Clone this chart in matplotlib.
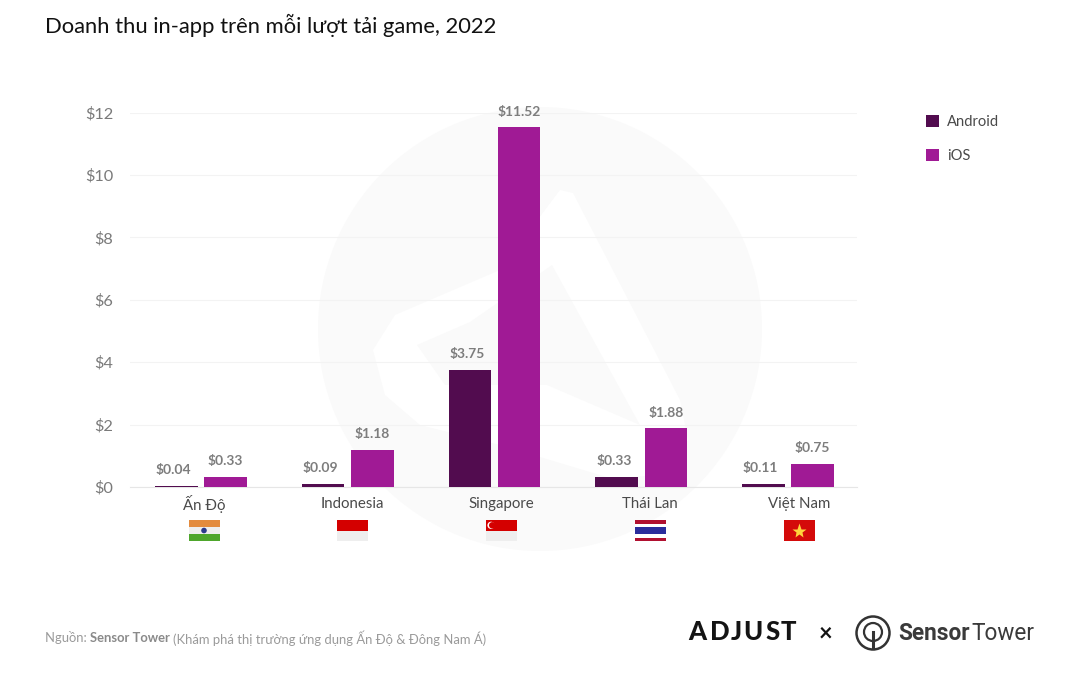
import matplotlib
matplotlib.use('Agg')
import matplotlib.pyplot as plt
from matplotlib.lines import Line2D
from matplotlib.patches import Circle, Polygon, Rectangle
from matplotlib.transforms import Affine2D

plt.rcParams['font.family'] = ['Lato', 'Noto Sans', 'DejaVu Sans']

countries = ['Ấn Độ', 'Indonesia', 'Singapore', 'Thái Lan', 'Việt Nam']
android = [0.04, 0.09, 3.75, 0.33, 0.11]
ios = [0.33, 1.18, 11.52, 1.88, 0.75]
y_ticks = [0, 2, 4, 6, 8, 10, 12]

W, H = 1080, 695
fig = plt.figure(figsize=(W / 100, H / 100), dpi=100)
# 像素坐标 (原点在左上角)
px = Affine2D().scale(1 / W, -1 / H).translate(0, 1) + fig.transFigure


def rect(x, y, w, h, color, zorder=1):
    fig.add_artist(Rectangle((x, y), w, h, transform=px, fc=color, ec='none', zorder=zorder))


def text(x, y, s, **kw):
    kw.setdefault('va', 'center')
    return fig.text(x / W, 1 - y / H, s, **kw)


# 背景水印
wm = '#fafafa'
fig.add_artist(Circle((540, 329), 222, transform=px, fc=wm, ec='none', zorder=0))
fig.add_artist(Polygon([(560, 190), (573, 193), (680, 400), (688, 440), (665, 475), (610, 478),
                        (500, 445), (420, 425), (385, 395), (373, 350), (395, 315), (500, 270)],
                       transform=px, fc='white', ec='none', zorder=0))
fig.add_artist(Polygon([(552, 265), (640, 425), (547, 385), (445, 385), (417, 345), (470, 322)],
                       transform=px, fc=wm, ec='none', zorder=0))

ax = fig.add_axes([130 / W, 1 - 487 / H, (857 - 130) / W, (487 - 112.5) / H])
ax.patch.set_alpha(0)
x = list(range(len(countries)))
offset = 0.168
bar_w = 0.29
b1 = ax.bar([i - offset for i in x], android, bar_w, color='#520c4f', label='Android', zorder=3)
b2 = ax.bar([i + offset for i in x], ios, bar_w, color='#a01a95', label='iOS', zorder=3)

for bars, vals, dx in [(b1, android, -2), (b2, ios, 0)]:
    for b, v in zip(bars, vals):
        ax.annotate('${:.2f}'.format(v), (b.get_x() + b.get_width() / 2, v), xytext=(dx, 7),
                    textcoords='offset points', ha='center', va='bottom',
                    fontsize=10, fontweight='bold', color='#7d7d7d', zorder=4)

ax.set_xlim(-0.484, 4.47)
ax.set_ylim(0, 12)
ax.set_yticks(y_ticks)
ax.set_yticklabels(['${}'.format(t) for t in y_ticks], fontsize=11.8, color='#7a7a7a')
ax.set_xticks([])
ax.tick_params(axis='y', length=0, pad=12)
ax.grid(True, axis='y', color='#f3f3f3', lw=0.8, zorder=1)
ax.set_axisbelow(True)
for s in ['top', 'right', 'left']:
    ax.spines[s].set_visible(False)
ax.spines['bottom'].set_color('#e6e6e6')

# 国家名称和国旗
flag_x = [204, 352.5, 501, 650, 799]
for fx, name in zip(flag_x, countries):
    text(fx, 504, name, ha='center', fontsize=10.8, color='#4a4a4a')

fy, fw, fh = 520, 31, 21
for fx in flag_x:
    rect(fx - fw / 2, fy, fw, fh, '#eeeeee', 2)
# India
rect(flag_x[0] - fw / 2, fy, fw, 7, '#e38b3e', 3)
rect(flag_x[0] - fw / 2, fy + 14, fw, 7, '#4ea62c', 3)
fig.add_artist(Circle((flag_x[0], fy + 10.5), 2.8, transform=px, fc='#2b3a8c', ec='none', zorder=4))
# Indonesia
rect(flag_x[1] - fw / 2, fy, fw, 10.5, '#d40000', 3)
# Singapore
rect(flag_x[2] - fw / 2, fy, fw, 10.5, '#d40000', 3)
fig.add_artist(Circle((flag_x[2] - 10, fy + 5.3), 3.6, transform=px, fc='white', ec='none', zorder=4))
fig.add_artist(Circle((flag_x[2] - 8.8, fy + 5.3), 3.2, transform=px, fc='#d40000', ec='none', zorder=4))
# Thailand
rect(flag_x[3] - fw / 2, fy, fw, fh, 'white', 3)
rect(flag_x[3] - fw / 2, fy, fw, 3.5, '#b01030', 4)
rect(flag_x[3] - fw / 2, fy + 7, fw, 7, '#2a2d9c', 4)
rect(flag_x[3] - fw / 2, fy + 17.5, fw, 3.5, '#b01030', 4)
# Vietnam
rect(flag_x[4] - fw / 2, fy, fw, fh, '#d40a0a', 3)
fig.add_artist(Line2D([flag_x[4]], [fy + 10.5], transform=px, marker='*', ms=11, mfc='#ffd23c',
                      mec='none', zorder=4))

# 标题
text(45, 25, 'Doanh thu in-app trên mỗi lượt tải game, 2022', fontsize=15.8, color='#111111')

# 图例
ax.legend(handles=[b1, b2], loc='upper left', bbox_to_anchor=(926 / W, 1 - 115 / H),
          bbox_transform=fig.transFigure, frameon=False, fontsize=10.6, labelcolor='#4a4a4a',
          handlelength=0.9, handleheight=0.9, handletextpad=0.55, labelspacing=1.35,
          borderpad=0, borderaxespad=0)

# 来源
t1 = text(45, 638, 'Nguồn: ', fontsize=9.4, color='#9a9a9a')
fig.canvas.draw()
r = fig.canvas.get_renderer()
x1 = t1.get_window_extent(r).x1
t2 = text(x1, 638, 'Sensor Tower', fontsize=9.4, color='#8a8a8a', fontweight='bold')
x2 = t2.get_window_extent(r).x1
text(x2 + 3, 638, '(Khám phá thị trường ứng dụng Ấn Độ & Đông Nam Á)', fontsize=9.4, color='#9a9a9a')

# 标志
logo_letters = ['A', 'D', 'J', 'U', 'S', 'T']
logo_x = [697, 720, 736, 753, 773, 788]
for lx, ch in zip(logo_x, logo_letters):
    text(lx, 640, ch, ha='center', va='baseline', fontsize=18.5, fontweight='black', color='#141414')
text(826, 633, '×', ha='center', fontsize=17, fontweight='bold', color='#141414')
fig.add_artist(Circle((873, 633), 16.5, transform=px, fc='none', ec='#333333', lw=1.8, zorder=5))
fig.add_artist(Circle((873, 632), 9, transform=px, fc='none', ec='#333333', lw=1.6, zorder=5))
fig.add_artist(Line2D([873, 873], [632, 648], transform=px, color='#333333', lw=2.2, zorder=6))
t3 = text(898, 640, 'Sensor', va='baseline', fontsize=16.3, fontweight='bold', color='#3a3a3a',
          family=['Liberation Sans Narrow', 'Roboto'])
x3 = t3.get_window_extent(r).x1
text(x3 + 2, 640, 'Tower', va='baseline', fontsize=16.3, color='#3a3a3a',
     family=['Liberation Sans Narrow', 'Roboto'])

fig.savefig('out.png', dpi=100)
